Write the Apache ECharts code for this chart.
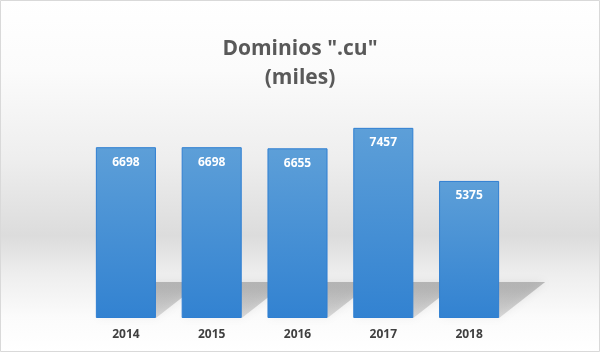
<!DOCTYPE html>
<html>
<head>
<meta charset="utf-8">
<script src="https://cdn.jsdelivr.net/npm/echarts@6/dist/echarts.min.js"></script>
<style>
  html, body { margin: 0; padding: 0; background: #fff; }
  #chart { width: 600px; height: 352px; }
</style>
</head>
<body>
<div id="chart"></div>
<script>
var years = ['2014', '2015', '2016', '2017', '2018'];
var domains = [6698, 6698, 6655, 7457, 5375];

var myChart = echarts.init(document.getElementById('chart'));

// floor shadow behind each bar, skewed to the right
function renderShadow(params, api) {
    var base = api.coord([api.value(0), 0]);
    var size = api.size([1, 0]);
    var w = size[0] * 0.7;
    var xL = base[0] - w / 2, xR = base[0] + w / 2, yB = base[1];
    var dx = 46, dy = 36;
    return {
        type: 'polygon',
        shape: {
            points: [[xL, yB], [xR, yB], [xR + dx, yB - dy], [xL + dx, yB - dy]]
        },
        style: {
            fill: {
                type: 'linear', x: 0, y: 0, x2: 0, y2: 1,
                colorStops: [
                    { offset: 0, color: 'rgba(110,110,110,0.42)' },
                    { offset: 1, color: 'rgba(110,110,110,0.22)' }
                ]
            },
            shadowBlur: 8,
            shadowColor: 'rgba(120,120,120,0.4)'
        }
    };
}

var option = {
    backgroundColor: {
        type: 'linear', x: 0, y: 0, x2: 0, y2: 1,
        colorStops: [
            { offset: 0, color: '#ffffff' },
            { offset: 0.2, color: '#fbfbfb' },
            { offset: 0.45, color: '#eeeeee' },
            { offset: 0.67, color: '#dcdcdc' },
            { offset: 0.78, color: '#eeeeee' },
            { offset: 0.9, color: '#fbfbfb' },
            { offset: 1, color: '#ffffff' }
        ]
    },
    graphic: [{
        type: 'rect',
        shape: { x: 0.5, y: 0.5, width: 599, height: 351 },
        style: { fill: 'none', stroke: '#d9d9d9', lineWidth: 1 },
        silent: true
    }],
    title: {
        text: 'Dominios ".cu"\n(miles)',
        left: 295,
        top: 30,
        textAlign: 'center',
        textStyle: {
            fontFamily: 'Open Sans',
            fontSize: 21,
            fontWeight: 'bold',
            color: '#595959',
            lineHeight: 29
        }
    },
    grid: { left: 83, right: 88, top: 114, bottom: 34 },
    xAxis: {
        type: 'category',
        data: years,
        axisLine: { show: false },
        axisTick: { show: false },
        axisLabel: {
            margin: 11,
            fontFamily: 'Open Sans',
            fontSize: 12,
            fontWeight: 'bold',
            color: '#404040'
        }
    },
    yAxis: {
        type: 'value',
        min: 0,
        max: 8000,
        show: false,
        splitLine: { show: false }
    },
    series: [{
        type: 'custom',
        renderItem: renderShadow,
        data: domains.map(function (v, i) { return [i, v]; }),
        z: 1,
        silent: true
    }, {
        type: 'bar',
        data: domains,
        barWidth: '70%',
        z: 2,
        itemStyle: {
            color: {
                type: 'linear', x: 0, y: 0, x2: 0, y2: 1,
                colorStops: [
                    { offset: 0, color: '#5d9fd8' },
                    { offset: 1, color: '#3282d1' }
                ]
            },
            borderColor: '#2f7fd2',
            borderWidth: 1
        },
        label: {
            show: true,
            position: 'insideTop',
            distance: 9,
            fontFamily: 'Open Sans',
            fontSize: 12,
            fontWeight: 'bold',
            color: '#ffffff'
        }
    }]
};

myChart.setOption(option);
</script>
</body>
</html>
